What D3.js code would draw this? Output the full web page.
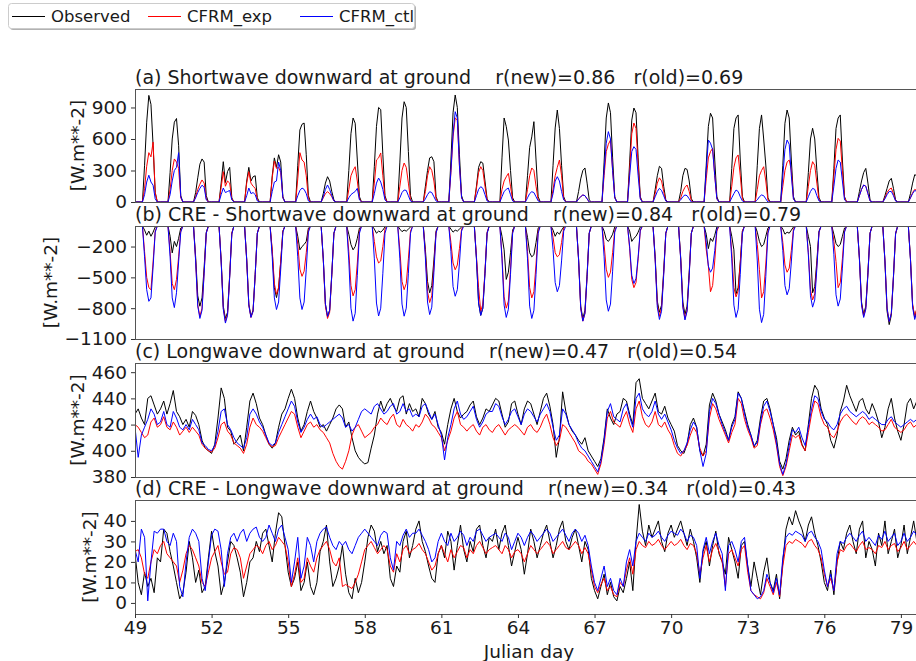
<!DOCTYPE html>
<html>
<head>
<meta charset="utf-8">
<script src="https://cdn.jsdelivr.net/npm/d3@7"></script>
<style>
  body { margin: 0; background: #fff; }
  text { font-family: "DejaVu Sans", sans-serif; fill: #1a1a1a; }
</style>
</head>
<body>
<script>
// ---- data -------------------------------------------------------------
const julianDays = d3.range(49, 80);              // 49 .. 79
const xTicks = [49, 52, 55, 58, 61, 64, 67, 70, 73, 76, 79];
const seriesNames = ["Observed", "CFRM_exp", "CFRM_ctl"];

// shortwave panels: one row per day, values at these UTC hours
const swHours = [9, 11, 13, 15, 17, 19];
const swDarkHours = [0, 7, 21];                    // sun down -> flux 0

const swObs = [
  [350,760,1015,930,540,90],[280,600,760,795,540,60],[90,230,360,410,380,60],[180,384,185,290,330,40],
  [200,330,200,240,250,40],[250,420,330,450,380,50],[350,686,740,752,450,60],[80,180,241,200,100,20],
  [300,650,800,750,400,50],[340,720,900,880,450,60],[380,800,955,900,480,60],[150,300,420,431,384,50],
  [400,850,1019,900,450,60],[150,330,384,370,200,30],[420,800,720,590,300,40],[250,520,620,765,400,50],
  [350,705,876,700,350,50],[100,220,300,324,180,20],[380,800,943,850,420,50],[380,780,895,850,420,50],
  [120,250,340,320,150,20],[100,250,320,310,200,30],[350,720,845,800,400,50],[320,700,800,829,400,50],
  [350,700,829,600,352,40],[350,750,876,800,400,50],[280,600,702,600,300,40],[320,700,800,829,400,50],
  [100,200,280,320,180,20],[60,130,200,225,130,20],[80,180,260,250,150,20]
];
const swExp = [
  [130,340,470,430,570,90],[120,300,410,380,320,40],[50,120,170,210,180,30],[140,289,150,200,180,30],
  [180,289,180,150,130,20],[230,390,320,330,280,40],[220,470,400,380,250,30],[40,80,98,80,50,10],
  [120,250,300,336,200,30],[180,400,420,467,250,40],[150,300,371,330,180,20],[100,250,336,300,200,30],
  [280,620,800,780,340,40],[130,280,336,300,150,20],[120,200,240,273,150,20],[120,250,324,300,150,20],
  [120,250,330,400,250,30],[30,50,67,60,30,0],[250,480,550,590,300,40],[300,650,752,700,350,40],
  [80,180,230,200,100,10],[40,100,140,162,100,10],[220,420,480,511,250,30],[150,330,420,448,250,30],
  [120,250,300,336,200,20],[150,300,380,400,300,30],[150,300,384,350,180,20],[250,500,606,580,300,40],
  [60,120,162,150,80,10],[40,90,120,133,80,10],[40,90,120,110,60,10]
];
const swCtl = [
  [70,190,255,190,160,30],[70,200,300,330,470,50],[40,90,130,160,140,20],[70,133,90,100,110,20],
  [60,133,80,90,70,10],[100,190,200,380,300,40],[60,110,133,120,80,10],[50,120,162,120,60,10],
  [40,70,86,100,130,20],[80,180,228,190,120,20],[40,90,114,110,60,10],[30,70,98,90,50,10],
  [300,650,860,800,350,40],[60,120,146,130,70,10],[50,100,120,133,70,10],[40,80,98,90,50,10],
  [80,200,241,200,100,20],[30,50,67,60,30,0],[300,560,670,600,300,40],[250,480,527,500,250,30],
  [50,100,130,110,60,10],[20,50,67,60,30,0],[300,590,560,500,250,30],[40,80,114,100,50,10],
  [20,50,67,60,30,0],[250,500,590,550,250,30],[50,100,130,120,60,10],[150,320,400,380,200,20],
  [60,120,162,150,80,10],[30,70,100,100,60,10],[40,80,110,100,60,10]
];

const creSwObs = [
  [-40,-90,-50,-100,-60,-10],[-100,-262,-150,-200,-120,-20],[-300,-680,-781,-700,-400,-60],[-330,-780,-900,-840,-480,-70],
  [-320,-760,-880,-820,-470,-70],[-250,-600,-697,-600,-350,-50],[-100,-232,-200,-180,-150,-20],[-320,-760,-880,-820,-470,-70],
  [-80,-180,-232,-200,-120,-20],[-30,-70,-50,-60,-40,-10],[-30,-55,-40,-50,-30,-10],[-230,-540,-650,-580,-330,-50],
  [-30,-60,-40,-50,-30,-10],[-320,-750,-870,-800,-460,-70],[-100,-232,-520,-450,-260,-40],[-110,-260,-300,-280,-160,-20],
  [-40,-100,-60,-80,-40,-10],[-320,-780,-900,-820,-470,-70],[-50,-130,-150,-120,-80,-10],[-50,-150,-120,-100,-60,-10],
  [-300,-730,-840,-770,-440,-70],[-310,-740,-860,-780,-450,-70],[-80,-220,-120,-150,-90,-10],[-100,-232,-660,-600,-350,-50],
  [-60,-150,-200,-180,-100,-20],[-30,-80,-60,-70,-40,-10],[-100,-200,-650,-590,-340,-50],[-80,-170,-200,-180,-100,-20],
  [-310,-740,-860,-780,-450,-70],[-350,-830,-960,-870,-500,-80],[-320,-770,-890,-810,-470,-70]
];
const creSwExp = [
  [-250,-500,-600,-620,-350,-50],[-250,-560,-620,-520,-300,-50],[-330,-770,-880,-800,-450,-70],[-340,-800,-930,-860,-490,-70],
  [-330,-770,-890,-830,-470,-70],[-230,-560,-665,-600,-340,-50],[-180,-420,-490,-440,-260,-40],[-330,-780,-900,-840,-480,-70],
  [-250,-580,-680,-620,-360,-50],[-150,-300,-360,-340,-200,-30],[-230,-540,-620,-560,-320,-50],[-270,-640,-745,-680,-390,-60],
  [-160,-360,-426,-380,-220,-30],[-300,-600,-830,-760,-440,-60],[-290,-690,-800,-730,-420,-60],[-250,-600,-700,-640,-370,-50],
  [-110,-260,-300,-280,-160,-20],[-330,-800,-926,-850,-490,-70],[-180,-420,-500,-450,-260,-40],[-220,-520,-600,-550,-320,-50],
  [-320,-760,-880,-800,-460,-70],[-320,-780,-900,-820,-470,-70],[-230,-390,-640,-580,-340,-50],[-250,-600,-690,-630,-360,-50],
  [-180,-426,-700,-640,-370,-50],[-160,-380,-450,-410,-240,-30],[-260,-620,-720,-660,-380,-60],[-150,-345,-600,-550,-320,-50],
  [-320,-760,-880,-800,-460,-70],[-340,-800,-930,-850,-490,-70],[-320,-760,-880,-800,-460,-70]
];
const creSwCtl = [
  [-300,-620,-733,-700,-400,-60],[-300,-700,-794,-650,-350,-60],[-340,-780,-900,-820,-460,-70],[-350,-810,-945,-870,-500,-80],
  [-330,-770,-890,-830,-470,-70],[-300,-700,-813,-740,-420,-60],[-300,-700,-813,-740,-420,-60],[-320,-760,-880,-820,-470,-70],
  [-340,-800,-926,-850,-480,-70],[-320,-750,-876,-800,-460,-70],[-320,-760,-878,-800,-460,-70],[-310,-740,-862,-790,-450,-70],
  [-250,-590,-684,-620,-360,-50],[-320,-750,-870,-800,-460,-70],[-320,-770,-890,-810,-470,-70],[-320,-780,-900,-820,-470,-70],
  [-230,-550,-640,-580,-340,-50],[-330,-800,-926,-850,-490,-70],[-300,-720,-830,-760,-440,-60],[-200,-480,-560,-510,-300,-40],
  [-330,-790,-910,-830,-480,-70],[-330,-790,-915,-830,-480,-70],[-160,-390,-450,-410,-240,-30],[-320,-770,-890,-810,-470,-70],
  [-340,-810,-940,-860,-490,-70],[-240,-580,-670,-610,-350,-50],[-280,-680,-790,-720,-410,-60],[-280,-670,-780,-710,-410,-60],
  [-320,-770,-890,-810,-470,-70],[-340,-800,-930,-850,-490,-70],[-330,-790,-910,-830,-480,-70]
];

// longwave panels: one row per day, 3-hourly values
const lwHours = [0, 3, 6, 9, 12, 15, 18, 21];

const lwObs = [
  [428,432,425,420,440,442,435,428],[432,438,428,436,446,430,426,420],[424,418,430,427,420,408,402,400],[398,405,425,448,440,418,415,405],
  [408,412,400,418,438,444,436,425],[420,412,405,402,406,418,428,432],[440,447,440,425,415,420,430,438],[430,425,418,420,415,420,425,432],
  [435,432,418,422,410,400,395,392],[390,391,402,412,428,438,430,436],[440,434,430,440,442,428,436,430],[432,426,440,436,428,424,430,418],
  [414,405,420,432,440,430,425,428],[430,435,438,426,420,425,432,430],[435,440,438,428,418,422,436,438],[428,420,432,438,436,428,420,430],
  [440,444,434,420,395,410,445,430],[420,415,412,408,405,410,400,396],[392,388,394,410,432,425,420,428],[430,440,438,428,420,452,455,440],
  [436,432,438,444,430,428,434,425],[420,415,404,400,398,405,420,425],[418,400,396,405,435,444,438,428],[422,416,408,420,426,445,440,430],
  [420,412,403,408,425,438,440,432],[420,410,392,386,394,408,418,412],[415,405,400,420,440,450,446,432],[425,420,408,402,412,430,438,450],
  [442,436,430,438,440,432,428,436],[430,422,410,418,432,440,425,415],[408,420,436,440,432,438,430,434]
];
const lwExp = [
  [420,418,414,410,412,422,425,418],[420,426,418,416,422,418,412,415],[418,414,418,415,412,405,402,400],[399,402,410,420,422,415,412,406],
  [404,402,398,405,418,425,420,418],[415,410,405,403,404,410,415,420],[425,430,428,418,410,415,420,422],[418,420,416,414,410,406,398,392],
  [388,386,392,400,412,418,420,415],[410,412,414,418,420,425,422,420],[425,428,420,418,424,420,418,415],[420,418,422,428,425,420,418,414],
  [410,400,408,415,425,430,420,418],[415,418,420,415,412,418,420,416],[414,418,420,416,412,416,418,420],[418,415,412,418,420,416,414,418],
  [424,428,420,410,404,408,420,418],[414,410,406,400,398,396,392,390],[386,382,390,405,425,430,422,420],[418,425,430,420,414,432,438,426],
  [420,418,422,430,420,418,422,416],[412,404,398,396,400,404,412,418],[414,402,396,400,425,436,432,424],[418,412,406,414,420,440,436,424],
  [416,410,402,404,420,430,432,425],[416,404,388,381,388,400,412,410],[412,404,400,414,428,438,436,426],[420,418,412,410,415,422,426,428],
  [425,422,420,424,426,424,420,422],[420,418,415,416,420,424,418,416],[414,416,420,422,418,420,418,416]
];
const lwCtl = [
  [418,395,412,418,424,432,428,420],[422,430,420,418,430,425,418,416],[420,416,424,420,416,406,404,401],[400,404,415,430,432,420,416,410],
  [406,404,402,410,428,432,428,422],[418,412,406,404,406,414,420,426],[432,438,434,422,414,418,424,428],[424,426,420,418,420,422,424,426],
  [428,425,418,420,415,418,424,430],[432,430,428,434,436,432,428,430],[434,436,428,430,436,430,432,426],[428,426,434,436,430,424,428,420],
  [412,393,410,420,432,438,428,424],[426,430,434,424,418,422,428,430],[430,436,434,426,420,424,430,432],[426,420,428,432,430,426,422,428],
  [432,436,430,418,408,412,432,428],[420,416,412,406,402,400,396,392],[388,384,392,408,430,436,426,424],[422,432,436,426,418,440,444,432],
  [428,426,430,438,428,424,428,422],[416,408,402,398,400,406,416,422],[418,400,388,398,430,440,436,428],[420,414,408,418,424,444,440,428],
  [418,412,404,406,422,434,438,430],[420,406,390,382,390,404,416,414],[418,410,404,418,432,442,440,430],[424,422,418,416,420,428,432,434],
  [430,428,426,428,430,428,424,426],[424,422,420,420,424,426,422,420],[418,420,422,424,422,424,420,420]
];

const creLwObs = [
  [24,10,4,15,8,12,5,22],[20,36,34,25,18,10,2,5],[15,30,22,10,16,5,8,22],[35,25,18,4,10,20,30,28],
  [22,15,3,10,20,22,30,25],[34,36,28,20,34,44,42,28],[15,8,12,20,6,10,20,8],[4,10,25,30,38,20,8,12],
  [18,28,14,5,2,12,5,10],[20,32,38,35,25,30,24,28],[12,8,18,15,30,35,22,28],[36,40,30,25,18,12,10,24],
  [28,22,35,30,16,28,38,26],[20,30,25,36,38,28,22,32],[30,36,26,34,38,28,18,25],[32,26,14,24,36,30,22,28],
  [34,38,30,22,28,36,40,30],[26,32,36,28,20,30,26,12],[6,2,8,14,4,10,3,1],[8,5,12,20,6,30,48,35],
  [28,38,32,36,40,30,25,34],[38,32,36,40,34,28,36,30],[22,10,25,30,18,28,35,24],[20,14,32,26,20,12,28,30],
  [18,8,20,12,4,15,22,10],[6,14,2,20,36,42,38,45],[40,36,30,38,42,34,28,20],[10,6,16,4,20,30,26,34],
  [38,30,24,36,40,22,30,26],[18,34,28,40,24,30,36,22],[28,38,24,32,40,30,28,34]
];
const creLwExp = [
  [25,26,22,14,12,20,26,24],[28,30,24,22,20,18,10,16],[24,28,26,22,18,10,8,15],[22,25,28,20,14,15,24,27],
  [26,22,12,18,24,26,28,27],[24,28,30,26,28,32,30,28],[20,8,14,22,10,12,22,18],[15,22,26,28,30,26,20,18],
  [22,8,9,8,7,10,14,20],[26,28,30,27,24,26,28,26],[18,15,24,20,26,28,24,26],[27,29,26,24,20,16,18,24],
  [28,24,20,26,22,25,28,27],[22,26,24,28,30,27,24,26],[27,28,26,24,28,26,22,25],[26,24,20,24,28,26,24,26],
  [28,30,28,24,26,28,30,27],[26,28,30,28,24,27,24,16],[8,5,9,12,6,8,4,3],[10,8,16,22,14,26,30,28],
  [27,30,28,29,31,28,26,28],[30,28,29,31,28,26,29,28],[24,14,22,28,20,26,29,25],[20,8,24,26,22,18,26,28],
  [15,6,4,3,2,5,12,8],[4,10,3,18,28,30,29,31],[30,29,27,30,31,28,26,22],[14,8,12,6,20,26,25,28],
  [29,27,25,28,30,26,27,26],[24,28,27,30,26,28,29,25],[27,30,26,28,30,28,27,29]
];
const creLwCtl = [
  [26,20,36,32,1,20,35,34],[36,36,30,28,34,30,8,3],[20,32,36,34,30,12,6,20],[33,36,35,26,8,24,32,34],
  [30,34,36,30,34,36,37,32],[30,32,38,34,30,36,38,32],[26,10,20,32,12,18,32,28],[20,30,34,36,37,32,28,26],
  [30,28,30,26,24,28,32,34],[36,34,32,30,28,33,35,34],[22,16,30,28,33,36,32,34],[34,36,33,30,26,20,22,30],
  [34,30,28,34,30,32,35,33],[28,32,30,35,36,33,30,32],[33,34,32,30,34,32,26,30],[34,32,28,32,35,33,30,32],
  [34,36,34,30,32,34,36,33],[30,34,36,34,30,33,28,18],[10,6,12,18,8,12,6,4],[12,8,20,26,18,30,34,32],
  [30,34,32,33,35,32,30,33],[35,34,33,36,34,30,33,32],[28,12,26,32,24,30,34,28],[24,6,28,30,26,20,30,32],
  [18,6,4,2,3,6,14,10],[5,12,4,22,32,34,33,35],[34,33,30,34,35,32,30,26],[16,8,14,6,24,30,29,32],
  [34,32,30,33,35,30,32,30],[28,33,31,35,30,32,34,28],[30,34,30,32,35,33,31,34]
];

// ---- helpers ----------------------------------------------------------
function swSeries(daily) {
  const pts = [];
  daily.forEach((vals, i) => {
    const d = julianDays[i];
    const row = swDarkHours.map(h => [h, 0]).concat(swHours.map((h, j) => [h, vals[j]]));
    row.sort((a, b) => a[0] - b[0]);
    row.forEach(([h, v]) => pts.push([d + h / 24, v]));
  });
  return pts;
}
function lwSeries(daily) {
  const pts = [];
  daily.forEach((vals, i) => lwHours.forEach((h, j) => pts.push([julianDays[i] + h / 24, vals[j]])));
  return pts;
}

const W = 916, H = 661;
const colors = ["#000000", "#ff0000", "#0000ff"];
const tickFont = 18.5;

const panels = [
  { id: "a", title: "(a) Shortwave downward at ground    r(new)=0.86   r(old)=0.69",
    top: 89, bottom: 202, domain: [0, 1076], ticks: [0, 300, 600, 900],
    series: [swObs, swExp, swCtl].map(swSeries) },
  { id: "b", title: "(b) CRE - Shortwave downward at ground    r(new)=0.84   r(old)=0.79",
    top: 226, bottom: 339, domain: [-1100, 0], ticks: [-1100, -800, -500, -200],
    series: [creSwObs, creSwExp, creSwCtl].map(swSeries) },
  { id: "c", title: "(c) Longwave downward at ground    r(new)=0.47   r(old)=0.54",
    top: 363, bottom: 477, domain: [380, 467], ticks: [380, 400, 420, 440, 460],
    series: [lwObs, lwExp, lwCtl].map(lwSeries) },
  { id: "d", title: "(d) CRE - Longwave downward at ground    r(new)=0.34   r(old)=0.43",
    top: 500, bottom: 614, domain: [-5.4, 50.2], ticks: [0, 10, 20, 30, 40],
    series: [creLwObs, creLwExp, creLwCtl].map(lwSeries) }
];

const x = d3.scaleLinear().domain([49, 80]).range([135, 135 + 31 * 25.53]);

const svg = d3.select("body").append("svg")
  .attr("width", W).attr("height", H)
  .style("display", "block");
svg.append("rect").attr("width", W).attr("height", H).attr("fill", "#fff");

panels.forEach(p => {
  const y = d3.scaleLinear().domain(p.domain).range([p.bottom, p.top]);
  const g = svg.append("g");

  g.append("clipPath").attr("id", "clip-" + p.id)
    .append("rect")
    .attr("x", x(49)).attr("y", p.top)
    .attr("width", x(80) - x(49)).attr("height", p.bottom - p.top);

  const line = d3.line().x(d => x(d[0])).y(d => y(d[1]));
  const plot = g.append("g").attr("clip-path", `url(#clip-${p.id})`);
  p.series.forEach((s, i) => {
    plot.append("path")
      .attr("d", line(s))
      .attr("fill", "none")
      .attr("stroke", colors[i])
      .attr("stroke-width", 1)
      .attr("stroke-linejoin", "round");
  });

  // frame
  g.append("rect")
    .attr("x", x(49) + 0.5).attr("y", p.top + 0.5)
    .attr("width", x(80) - x(49)).attr("height", p.bottom - p.top)
    .attr("fill", "none").attr("stroke", "#555").attr("stroke-width", 1);

  const ax = g.append("g")
    .attr("transform", `translate(${x(49)},0)`)
    .call(d3.axisLeft(y).tickValues(p.ticks).tickSize(4).tickPadding(4).tickFormat(d3.format("d")));
  ax.select(".domain").remove();
  ax.selectAll(".tick line").attr("stroke", "#333");
  ax.selectAll(".tick text").attr("font-size", tickFont).attr("font-family", "DejaVu Sans").attr("fill", "#1a1a1a");

  // y label sits just left of the widest tick label, like matplotlib
  let minLeft = Infinity;
  ax.selectAll(".tick text").each(function () {
    minLeft = Math.min(minLeft, x(49) + this.getBBox().x);
  });
  const labelX = minLeft - 5 - 9;

  g.append("text")
    .attr("x", x(49)).attr("y", p.top - 5)
    .attr("font-size", 19)
    .style("white-space", "pre")
    .text(p.title);

  g.append("text")
    .attr("transform", `translate(${labelX},${(p.top + p.bottom) / 2}) rotate(-90)`)
    .attr("text-anchor", "middle")
    .attr("dominant-baseline", "central")
    .attr("font-size", 18.5)
    .text("[W.m**-2]");

  if (p.id === "d") {
    const xa = g.append("g")
      .attr("transform", `translate(0,${p.bottom})`)
      .call(d3.axisBottom(x).tickValues(xTicks).tickSize(4).tickPadding(3).tickFormat(d3.format("d")));
    xa.select(".domain").remove();
    xa.selectAll(".tick line").attr("stroke", "#333");
    xa.selectAll(".tick text").attr("font-size", tickFont).attr("font-family", "DejaVu Sans").attr("fill", "#1a1a1a");
    g.append("text")
      .attr("x", 529).attr("y", 658)
      .attr("text-anchor", "middle")
      .attr("font-size", 18.5)
      .text("Julian day");
  }
});

// legend
const leg = svg.append("g");
leg.append("rect").attr("x", 10).attr("y", 5).attr("width", 406).attr("height", 25).attr("rx", 3)
  .attr("fill", "#000").attr("opacity", 0.3);
leg.append("rect").attr("x", 8.5).attr("y", 3.5).attr("width", 406).attr("height", 25).attr("rx", 3)
  .attr("fill", "#fff").attr("stroke", "#cccccc");
const legX = [12, 148, 300];
seriesNames.forEach((name, i) => {
  leg.append("line")
    .attr("x1", legX[i]).attr("x2", legX[i] + 33)
    .attr("y1", 16.5).attr("y2", 16.5)
    .attr("stroke", colors[i]).attr("stroke-width", 1);
  leg.append("text")
    .attr("x", legX[i] + 39).attr("y", 22)
    .attr("font-size", 16.5)
    .text(name);
});
</script>
</body>
</html>
